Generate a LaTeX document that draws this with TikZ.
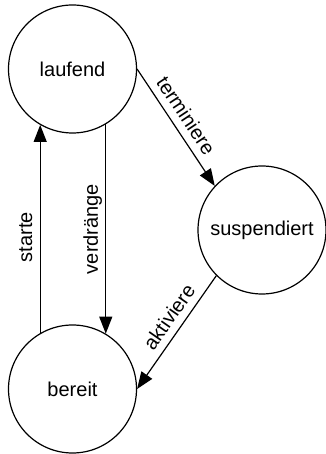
\documentclass[tikz,border=0pt]{standalone}
\usepackage{fontspec}
\setmainfont{Liberation Sans}
\usetikzlibrary{arrows.meta}
\begin{document}
\begin{tikzpicture}[x=1pt,y=1pt,
 state/.style={circle, draw, line width=1.2pt, minimum size=128pt, inner sep=0pt, font=\fontsize{20}{24}\selectfont},
 trans/.style={line width=1.2pt, -{Triangle[length=17pt,width=13pt]}},
 lbl/.style={font=\fontsize{20}{24}\selectfont, inner sep=0pt, outer sep=8pt, text depth=0pt}]
\useasboundingbox (0,0) rectangle (325,454);
\node[state] (laufend) at (72.5,385) {laufend};
\node[state] (suspendiert) at (262,224) {suspendiert};
\node[state] (bereit) at (72.5,65) {bereit};
\draw[trans] (laufend.east) -- node[lbl, sloped, pos=0.47, anchor=south] {terminiere} (suspendiert.137.5);
\draw[trans] (suspendiert.225) -- node[lbl, sloped, pos=0.44, anchor=south] {aktiviere} (bereit.east);
\draw[trans] (laufend.-59.5) -- node[lbl, rotate=90, pos=0.5, anchor=south] {verdränge} (bereit.59.5);
\draw[trans] (bereit.120.5) -- node[lbl, rotate=90, pos=0.46, anchor=south] {starte} (laufend.-120.5);
\end{tikzpicture}
\end{document}
